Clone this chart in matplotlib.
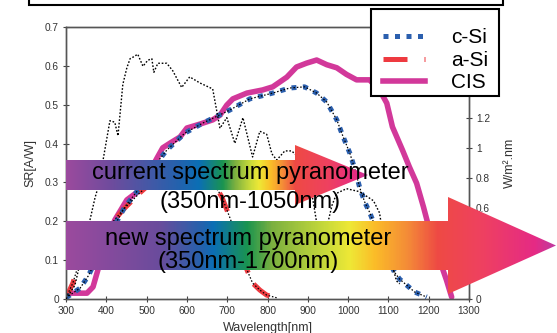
import numpy as np
import matplotlib
matplotlib.use("Agg")
import matplotlib.pyplot as plt
from matplotlib.colors import LinearSegmentedColormap
from matplotlib.patches import Polygon, Rectangle
from matplotlib.lines import Line2D

plt.rcParams['font.family'] = ['Liberation Sans', 'DejaVu Sans']

# ---------------- data ----------------
solar_wl = [300, 322, 335, 355, 372, 384, 392, 409, 421, 429, 441, 451, 459, 466, 478, 491,
            503, 513, 518, 528, 550, 565, 587, 607, 632, 664, 682, 699, 719, 739, 763, 781,
            798, 811, 823, 843, 860, 880, 900, 915, 929, 945, 960, 972, 996, 1029, 1063, 1078,
            1096, 1113, 1120, 1128]
solar_w = [0.0, 0.09, 0.24, 0.47, 0.67, 0.78, 0.92, 1.18, 1.17, 1.08, 1.42, 1.53, 1.59, 1.60,
           1.62, 1.54, 1.58, 1.59, 1.50, 1.56, 1.56, 1.51, 1.40, 1.47, 1.43, 1.39, 1.13, 1.20,
           1.03, 1.20, 0.94, 1.11, 1.09, 0.96, 0.92, 0.98, 0.98, 0.93, 0.85, 0.62, 0.39, 0.45,
           0.62, 0.70, 0.73, 0.71, 0.65, 0.57, 0.26, 0.19, 0.12, 0.10]

csi_wl = [300, 335, 355, 372, 397, 421, 446, 483, 521, 550, 595, 640, 706, 756, 813, 855, 892,
          922, 947, 972, 986, 1004, 1016, 1029, 1041, 1053, 1066, 1078, 1098, 1115, 1128, 1145,
          1165, 1195]
csi_sr = [0.003, 0.028, 0.059, 0.095, 0.139, 0.190, 0.237, 0.286, 0.345, 0.383, 0.427, 0.453,
          0.486, 0.515, 0.530, 0.543, 0.546, 0.530, 0.507, 0.461, 0.422, 0.376, 0.337, 0.286,
          0.250, 0.224, 0.190, 0.152, 0.106, 0.069, 0.051, 0.036, 0.018, 0.005]

asi_wl = [300, 317, 327, 347, 384, 416, 441, 483, 533, 583, 632, 669, 687, 706, 731, 749, 763,
          781, 798, 823]
asi_sr = [0.003, 0.041, 0.075, 0.113, 0.152, 0.198, 0.229, 0.273, 0.319, 0.337, 0.327, 0.293,
          0.262, 0.211, 0.139, 0.075, 0.041, 0.023, 0.010, 0.003]

cis_wl = [302, 352, 367, 377, 384, 392, 409, 421, 451, 483, 503, 526, 540, 558, 583, 600, 632,
          664, 682, 699, 714, 749, 788, 813, 848, 872, 897, 922, 947, 972, 996, 1021, 1053,
          1078, 1096, 1110, 1135, 1152, 1170, 1187, 1202, 1227, 1244, 1257]
cis_sr = [0.015, 0.015, 0.031, 0.067, 0.093, 0.126, 0.170, 0.203, 0.255, 0.280, 0.319, 0.363,
          0.389, 0.401, 0.417, 0.440, 0.450, 0.461, 0.473, 0.499, 0.515, 0.530, 0.538, 0.546,
          0.571, 0.597, 0.607, 0.615, 0.603, 0.595, 0.578, 0.564, 0.564, 0.538, 0.504, 0.443,
          0.383, 0.340, 0.298, 0.237, 0.178, 0.100, 0.049, 0.005]

series_labels = ["c-Si", "a-Si", "CIS"]
x_ticks = [300, 400, 500, 600, 700, 800, 900, 1000, 1100, 1200, 1300]
y_ticks = [0, 0.1, 0.2, 0.3, 0.4, 0.5, 0.6, 0.7]
y2_ticks = [0, 0.2, 0.4, 0.6, 0.8, 1.0, 1.2]
arrow_texts = [("current spectrum pyranometer", "(350nm-1050nm)"),
               ("new spectrum pyranometer", "(350nm-1700nm)")]

# ---------------- figure ----------------
W, H = 557, 333
fig = plt.figure(figsize=(W / 100, H / 100), dpi=100)
ax = fig.add_axes([66 / W, 1 - 299 / H, (469 - 66) / W, (299 - 27) / H])

C_BLUE = '#2B5FAE'
C_RED = '#EE3A40'
C_MAG = '#D2389A'

ax.plot(cis_wl, cis_sr, color=C_MAG, lw=4.0, solid_capstyle='round', zorder=2)
ax.plot(asi_wl, asi_sr, color=C_RED, lw=3.6, linestyle=(0, (4.0, 2.5)), dash_capstyle='butt', zorder=3)
ax.plot(asi_wl, asi_sr, color='black', lw=0.9, linestyle=(0, (1.2, 1.5)), zorder=4)
ax.plot(csi_wl, csi_sr, color=C_BLUE, lw=3.6, linestyle=(0, (1.0, 1.3)), dash_capstyle='butt', zorder=3)
ax.plot(csi_wl, csi_sr, color='black', lw=0.9, linestyle=(0, (1.2, 1.5)), zorder=4)

ax.set_xlim(300, 1300)
ax.set_ylim(0, 0.7)
ax.set_xticks(x_ticks)
ax.set_yticks(y_ticks)
ax.set_yticklabels(['0' if v == 0 else f'{v:.1f}' for v in y_ticks])
ax.tick_params(axis='both', direction='inout', length=4, width=0.8, labelsize=7.3,
               colors='#444444', labelcolor='#333333', pad=3)
for s in ax.spines.values():
    s.set_color('#555555')
    s.set_linewidth(1.0)
ax.set_xlabel('Wavelength[nm]', fontsize=9, color='#333333', labelpad=4)
ax.set_ylabel('SR[A/W]', fontsize=9, color='#333333', labelpad=6)

ax2 = ax.twinx()
ax2.plot(solar_wl, solar_w, color='black', lw=1.0, linestyle=(0, (1.2, 1.3)), zorder=5)
ax2.set_ylim(0, 1.8)
ax2.set_yticks(y2_ticks)
ax2.set_yticklabels(['0' if v == 0 else ('1' if v == 1 else f'{v:.1f}') for v in y2_ticks])
ax2.tick_params(axis='y', direction='inout', length=4, width=0.8, labelsize=7.3,
                colors='#444444', labelcolor='#333333', pad=3)
for s in ax2.spines.values():
    s.set_color('#555555')
    s.set_linewidth(1.0)
ax2.set_ylabel('W/m².nm', fontsize=9, color='#333333', labelpad=10)

# ---------------- legend (frame drawn separately) ----------------
frame = Rectangle((371 / W, 1 - 96 / H), (499 - 371) / W, (96 - 9) / H,
                  transform=fig.transFigure, facecolor='white', edgecolor='black',
                  lw=1.5, zorder=4)
fig.patches.append(frame)

handles = [
    Line2D([], [], color=C_BLUE, lw=3.6, linestyle=(0, (1.0, 1.3)), dash_capstyle='butt'),
    Line2D([], [], color=C_RED, lw=3.6, linestyle=(0, (4.8, 3.4)), dash_capstyle='butt'),
    Line2D([], [], color=C_MAG, lw=4.0),
]
leg = fig.legend(handles, series_labels, loc='upper left',
                 bbox_to_anchor=(377 / W, 1 - 22 / H), bbox_transform=fig.transFigure,
                 frameon=False, fontsize=15, handlelength=2.0, handletextpad=1.25,
                 labelspacing=0.17, borderpad=0.3, borderaxespad=0)
leg.set_zorder(6)

# ---------------- overlay: arrows and box ----------------
ov = fig.add_axes([0, 0, 1, 1], zorder=10)
ov.patch.set_alpha(0)
ov.axis('off')


def grad_arrow(x0, tip, head_x, body_half, head_half, yc, stops):
    pts = [(x0, yc - body_half), (head_x, yc - body_half), (head_x, yc - head_half),
           (tip, yc), (head_x, yc + head_half), (head_x, yc + body_half), (x0, yc + body_half)]
    poly = Polygon(pts, closed=True, facecolor='none', edgecolor='none')
    ov.add_patch(poly)
    cmap = LinearSegmentedColormap.from_list('g', stops)
    grad = np.linspace(0, 1, 600).reshape(1, -1)
    im = ov.imshow(grad, cmap=cmap, extent=[x0, tip, yc + head_half, yc - head_half],
                   aspect='auto', interpolation='bilinear')
    im.set_clip_path(poly)


stops1 = [(0.00, '#9B4A9E'), (0.15, '#6E4C9D'), (0.38, '#2163AE'), (0.44, '#0B6FB5'),
          (0.52, '#1A9450'), (0.56, '#7BB040'), (0.61, '#C8DA3A'), (0.64, '#EEE836'),
          (0.68, '#FBBD28'), (0.72, '#F48A38'), (0.76, '#EE4A44'), (0.87, '#EF4160'),
          (0.97, '#E52A85'), (1.00, '#C03AA0')]
stops2 = [(0.00, '#9B4A9E'), (0.19, '#6A4C9C'), (0.28, '#2163AE'), (0.30, '#0B6FB5'),
          (0.37, '#1A9450'), (0.42, '#7BB040'), (0.53, '#C8DA3A'), (0.58, '#EEE836'),
          (0.63, '#FBBD28'), (0.70, '#F48A38'), (0.76, '#EE4A44'), (0.85, '#EF4160'),
          (0.96, '#E52A85'), (1.00, '#C03AA0')]

grad_arrow(66, 368, 295, 15, 30, 175, stops1)
grad_arrow(66, 556, 448, 24.5, 48.5, 245.5, stops2)

ov.add_patch(Rectangle((29, -20), 474, 25, facecolor='none', edgecolor='black', lw=1.5))

ov.text(250, 179, arrow_texts[0][0], ha='center', va='baseline', fontsize=17, color='black')
ov.text(250, 208, arrow_texts[0][1], ha='center', va='baseline', fontsize=17, color='black')
ov.text(248, 245, arrow_texts[1][0], ha='center', va='baseline', fontsize=17, color='black')
ov.text(248, 268, arrow_texts[1][1], ha='center', va='baseline', fontsize=17, color='black')

ov.set_xlim(0, W)
ov.set_ylim(H, 0)

fig.savefig('out.png', dpi=100)
